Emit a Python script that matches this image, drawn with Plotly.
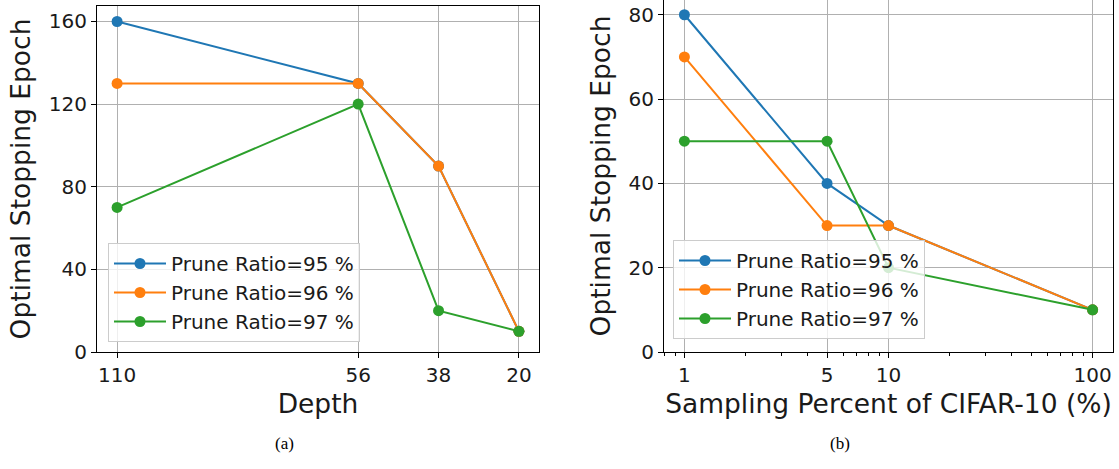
import plotly.graph_objects as go

# ---- data ----
depth = [110, 56, 38, 20]
depth_ticks = ["110", "56", "38", "20"]
depth_r95 = [160, 130, 90, 10]
depth_r96 = [130, 130, 90, 10]
depth_r97 = [70, 120, 20, 10]

sampling = [1, 5, 10, 100]
sampling_ticks = ["1", "5", "10", "100"]
samp_r95 = [80, 40, 30, 10]
samp_r96 = [70, 30, 30, 10]
samp_r97 = [50, 50, 20, 10]

names = ["Prune Ratio=95 %", "Prune Ratio=96 %", "Prune Ratio=97 %"]
colors = ["#1f77b4", "#ff7f0e", "#2ca02c"]

W, H = 1119, 469
FONT = "DejaVu Sans"
TXT = "#1a1a1a"
TITLE_SIZE = 26.5

fig = go.Figure()

for name, ys, c in zip(names, [depth_r95, depth_r96, depth_r97], colors):
    fig.add_trace(go.Scatter(x=depth, y=ys, name=name, mode="lines+markers",
                             line=dict(color=c, width=2), marker=dict(color=c, size=11),
                             xaxis="x", yaxis="y", legend="legend"))
for name, ys, c in zip(names, [samp_r95, samp_r96, samp_r97], colors):
    fig.add_trace(go.Scatter(x=sampling, y=ys, name=name, mode="lines+markers",
                             line=dict(color=c, width=2), marker=dict(color=c, size=11),
                             xaxis="x2", yaxis="y2", legend="legend2"))

def px_x(v):
    return v / W

def px_y(v):
    return 1 - v / H

axis_common = dict(showline=True, mirror=True, linecolor="black", linewidth=1,
                   showgrid=True, gridcolor="#b0b0b0", gridwidth=1,
                   ticks="outside", ticklen=5, tickcolor="black", tickwidth=1,
                   tickfont=dict(family=FONT, size=20, color=TXT), zeroline=False,
                   automargin=False)

legend_common = dict(xanchor="left", yanchor="top", bgcolor="rgba(255,255,255,0.8)",
                     bordercolor="#cccccc", borderwidth=1, itemwidth=52,
                     font=dict(family=FONT, size=20, color=TXT), tracegroupgap=0)

fig.update_layout(
    width=W, height=H,
    margin=dict(l=0, r=0, t=0, b=0),
    paper_bgcolor="white", plot_bgcolor="white",
    showlegend=True,
    xaxis=dict(domain=[px_x(97), px_x(539)], anchor="y", range=[114.5, 15.5],
               tickmode="array", tickvals=depth, ticktext=depth_ticks,
               title=dict(text="Depth", font=dict(family=FONT, size=TITLE_SIZE, color=TXT), standoff=8),
               **axis_common),
    yaxis=dict(domain=[px_y(352), px_y(6)], anchor="x", range=[0, 167.5],
               tickmode="array", tickvals=[0, 40, 80, 120, 160],
               title=dict(text="Optimal Stopping Epoch", font=dict(family=FONT, size=TITLE_SIZE, color=TXT), standoff=10),
               **axis_common),
    xaxis2=dict(domain=[px_x(664), px_x(1113)], anchor="y2", type="log", range=[-0.1, 2.1],
                tickmode="array", tickvals=sampling, ticktext=sampling_ticks,
                minor=dict(tickmode="array",
                           tickvals=[0.8, 0.9, 2, 3, 4, 6, 7, 8, 9, 20, 30, 40, 50, 60, 70, 80, 90],
                           ticks="outside", ticklen=3, tickcolor="black", showgrid=False),
                title=dict(text="Sampling Percent of CIFAR-10 (%)", font=dict(family=FONT, size=TITLE_SIZE, color=TXT), standoff=8),
                **axis_common),
    yaxis2=dict(domain=[px_y(352), 1.0], anchor="x2", range=[0, 83.5],
                tickmode="array", tickvals=[0, 20, 40, 60, 80],
                title=dict(text="Optimal Stopping Epoch", font=dict(family=FONT, size=TITLE_SIZE, color=TXT), standoff=10),
                **axis_common),
    legend=dict(x=px_x(108), y=px_y(243), **legend_common),
    legend2=dict(x=px_x(673), y=px_y(240), **legend_common),
    annotations=[
        dict(text="(a)", x=px_x(273), y=px_y(455), xref="paper", yref="paper",
             showarrow=False, font=dict(family="Liberation Serif", size=17, color="black")),
        dict(text="(b)", x=px_x(852), y=px_y(455), xref="paper", yref="paper",
             showarrow=False, font=dict(family="Liberation Serif", size=17, color="black")),
    ],
)

fig.write_html("out.html", config={"displayModeBar": False},
               post_script="document.body.style.margin='0';document.body.style.overflow='hidden';")
